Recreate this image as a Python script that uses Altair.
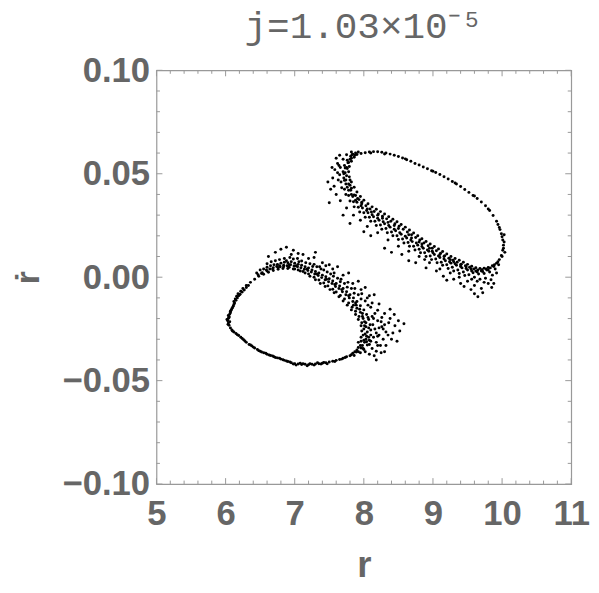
import altair as alt
import pandas as pd

TITLE = "j=1.03×10⁻⁵"
X_TITLE = "r"
Y_TITLE = "ṙ"

x_major = [5, 6, 7, 8, 9, 10, 11]
x_minor = [5.2, 5.4, 5.6, 5.8, 6.2, 6.4, 6.6, 6.8, 7.2, 7.4, 7.6, 7.8,
           8.2, 8.4, 8.6, 8.8, 9.2, 9.4, 9.6, 9.8, 10.2, 10.4, 10.6, 10.8]
y_major = [-0.10, -0.05, 0.00, 0.05, 0.10]
y_minor = [-0.09, -0.08, -0.07, -0.06, -0.04, -0.03, -0.02, -0.01,
           0.01, 0.02, 0.03, 0.04, 0.06, 0.07, 0.08, 0.09]

# ---- left island (r, rdot) ----
left_thin = [
    (6.36, -0.0025), (6.33, -0.0040), (6.30, -0.0050), (6.27, -0.0062), (6.24, -0.0072),
    (6.21, -0.0082), (6.19, -0.0090), (6.17, -0.0100), (6.15, -0.0112), (6.13, -0.0125),
    (6.11, -0.0140), (6.09, -0.0152), (6.07, -0.0165), (6.06, -0.0178), (6.05, -0.0190),
    (6.04, -0.0200), (6.03, -0.0210), (6.04, -0.0222), (6.05, -0.0232), (6.07, -0.0245),
    (6.09, -0.0255), (6.12, -0.0265), (6.15, -0.0272), (6.19, -0.0282), (6.22, -0.0290),
    (6.26, -0.0302), (6.30, -0.0315), (6.34, -0.0325), (6.38, -0.0332), (6.42, -0.0342),
    (6.46, -0.0350), (6.50, -0.0358), (6.55, -0.0365), (6.60, -0.0372), (6.65, -0.0378),
    (6.70, -0.0385), (6.75, -0.0390), (6.80, -0.0396), (6.85, -0.0402), (6.90, -0.0408),
    (6.95, -0.0414), (7.00, -0.0418), (7.05, -0.0420), (7.10, -0.0422), (7.15, -0.0421),
    (7.20, -0.0423), (7.25, -0.0421), (7.30, -0.0420), (7.35, -0.0418), (7.40, -0.0416),
    (7.45, -0.0414), (7.50, -0.0410), (7.55, -0.0406), (7.60, -0.0402), (7.65, -0.0398),
    (7.70, -0.0392), (6.05, -0.0195), (6.06, -0.0215), (6.08, -0.0160), (6.10, -0.0148),
    (6.04, -0.0185), (6.02, -0.0205), (6.58, -0.0368), (6.72, -0.0388), (6.88, -0.0405),
    (7.02, -0.0425), (7.12, -0.0418), (7.18, -0.0428), (7.28, -0.0425), (7.38, -0.0420),
    (7.42, -0.0412), (7.33, -0.0413), (6.93, -0.0410), (7.08, -0.0416), (6.28, -0.0308),
    (6.17, -0.0278), (6.40, -0.0338), (6.52, -0.0362), (6.63, -0.0376), (6.78, -0.0392),
    (6.20, -0.0085), (6.12, -0.0132), (6.07, -0.0172), (6.035, -0.0228), (6.10, -0.0260),
    (6.24, -0.0296), (6.36, -0.0328), (6.48, -0.0355), (6.68, -0.0381), (6.83, -0.0399),
    (6.98, -0.0420), (7.22, -0.0418), (7.47, -0.0418), (7.58, -0.0408), (7.68, -0.0396),
]
left_inner = [
    (7.75, -0.0385), (7.82, -0.0375), (7.87, -0.0360), (7.92, -0.0340), (7.96, -0.0310),
    (7.99, -0.0280), (8.00, -0.0250), (7.97, -0.0220), (7.93, -0.0190), (7.88, -0.0165),
    (7.83, -0.0145), (7.78, -0.0125), (7.72, -0.0105), (7.66, -0.0088), (7.60, -0.0072),
    (7.55, -0.0058), (7.48, -0.0042), (7.42, -0.0028), (7.35, -0.0014), (7.28, 0.0000),
    (7.20, 0.0016), (7.12, 0.0028), (7.05, 0.0035), (6.98, 0.0040), (6.90, 0.0042),
    (6.83, 0.0042), (6.76, 0.0038), (6.69, 0.0032), (6.62, 0.0024), (6.55, 0.0014),
    (6.48, 0.0004), (6.42, -0.0010),
]
left_band = [
    (6.45, 0.0020), (6.50, 0.0035), (6.55, 0.0040), (6.60, 0.0048), (6.65, 0.0055),
    (6.70, 0.0060), (6.75, 0.0062), (6.80, 0.0068), (6.85, 0.0072), (6.90, 0.0070),
    (6.95, 0.0075), (7.00, 0.0068), (7.05, 0.0062), (7.10, 0.0058), (7.15, 0.0050),
    (7.20, 0.0045), (7.25, 0.0035), (7.30, 0.0028), (7.35, 0.0020), (7.40, 0.0010),
    (7.45, 0.0002), (7.50, -0.0008), (7.55, -0.0018), (7.60, -0.0030), (7.65, -0.0042),
    (7.70, -0.0055), (7.75, -0.0070), (7.80, -0.0085), (7.85, -0.0100), (7.90, -0.0118),
    (7.95, -0.0138), (8.00, -0.0158), (8.04, -0.0180), (8.07, -0.0205), (8.09, -0.0230),
    (8.10, -0.0255), (8.10, -0.0280), (8.08, -0.0305), (8.05, -0.0328), (8.00, -0.0350),
    (7.95, -0.0365),
    (6.60, 0.0065), (6.72, 0.0080), (6.85, 0.0090), (6.98, 0.0088), (7.10, 0.0078),
    (7.22, 0.0065), (7.32, 0.0050), (7.42, 0.0035), (7.52, 0.0015), (7.62, -0.0005),
    (7.72, -0.0030), (7.82, -0.0055), (7.92, -0.0085), (8.02, -0.0115), (8.10, -0.0145),
    (8.16, -0.0175), (8.20, -0.0210), (8.22, -0.0245), (8.22, -0.0280), (8.18, -0.0315),
    (8.12, -0.0345),
    (6.78, 0.0055), (6.92, 0.0060), (7.02, 0.0055), (7.18, 0.0040), (7.32, 0.0015),
    (7.46, -0.0010), (7.58, -0.0035), (7.68, -0.0060), (7.78, -0.0090), (7.88, -0.0125),
    (7.98, -0.0175), (8.03, -0.0220), (8.05, -0.0265), (8.03, -0.0300), (7.98, -0.0330),
    (7.90, -0.0352), (7.84, -0.0368), (7.80, -0.0380), (7.73, -0.0388),
    (6.88, 0.0080), (7.06, 0.0075), (7.26, 0.0052), (7.38, 0.0040), (7.56, 0.0005),
    (7.66, -0.0022), (7.76, -0.0048), (7.86, -0.0078), (7.96, -0.0105), (8.06, -0.0135),
    (8.14, -0.0200), (8.16, -0.0250), (8.14, -0.0290), (8.08, -0.0325), (8.02, -0.0360),
]
left_band2 = [
    (6.47, 0.0012), (6.53, 0.0022), (6.59, 0.0035), (6.64, 0.0040), (6.69, 0.0046),
    (6.74, 0.0052), (6.79, 0.0050), (6.84, 0.0058), (6.89, 0.0055), (6.94, 0.0060),
    (6.99, 0.0054), (7.04, 0.0050), (7.09, 0.0046), (7.14, 0.0038), (7.19, 0.0032),
    (7.24, 0.0025), (7.29, 0.0015), (7.34, 0.0008), (7.39, -0.0002), (7.44, -0.0012),
    (7.49, -0.0022), (7.54, -0.0030), (7.59, -0.0045), (7.64, -0.0055), (7.69, -0.0070),
    (7.74, -0.0085), (7.79, -0.0100), (7.84, -0.0118), (7.89, -0.0135), (7.94, -0.0155),
    (7.98, -0.0190), (8.01, -0.0215), (8.03, -0.0240), (8.04, -0.0285), (8.01, -0.0315),
    (7.96, -0.0342), (7.89, -0.0362),
]
left_band3 = [
    (6.66, 0.0075), (6.78, 0.0085), (6.93, 0.0095), (7.04, 0.0090), (7.16, 0.0070),
    (7.28, 0.0062), (7.36, 0.0050), (7.47, 0.0025), (7.57, 0.0020), (7.67, -0.0010),
    (7.77, -0.0025), (7.87, -0.0055), (7.97, -0.0080), (8.05, -0.0100), (8.12, -0.0125),
    (8.20, -0.0160), (8.26, -0.0195), (8.30, -0.0230), (8.32, -0.0265), (8.28, -0.0300),
    (8.24, -0.0330), (8.18, -0.0358), (8.08, -0.0372), (8.13, -0.0230), (8.18, -0.0270),
    (8.12, -0.0190), (8.25, -0.0215), (8.20, -0.0285), (8.10, -0.0310), (8.26, -0.0240),
]
left_dense = [
    (7.85, -0.0135), (7.90, -0.0150), (7.95, -0.0170), (7.99, -0.0200), (8.01, -0.0235),
    (8.02, -0.0275), (8.00, -0.0305), (7.95, -0.0330), (7.92, -0.0315), (7.96, -0.0290),
    (7.97, -0.0260), (7.96, -0.0235), (7.92, -0.0205), (7.88, -0.0180), (7.82, -0.0158),
    (7.76, -0.0135), (7.70, -0.0115), (7.64, -0.0095), (7.57, -0.0075), (7.51, -0.0060),
    (7.44, -0.0045), (7.37, -0.0030), (7.30, -0.0012), (7.22, 0.0005), (7.15, 0.0020),
    (7.08, 0.0030), (7.00, 0.0040), (6.92, 0.0048), (6.84, 0.0050), (6.76, 0.0046),
    (6.68, 0.0040), (6.60, 0.0030), (6.52, 0.0018), (8.06, -0.0195), (8.07, -0.0245),
    (8.07, -0.0290), (8.04, -0.0312), (7.99, -0.0345), (7.92, -0.0360), (7.86, -0.0378),
    (6.30, -0.0040), (6.25, -0.0055), (6.22, -0.0068), (6.18, -0.0080), (6.16, -0.0092),
    (6.14, -0.0105), (6.12, -0.0118),
]
left_outliers = [
    (6.72, 0.0120), (6.88, 0.0145), (6.98, 0.0130), (7.12, 0.0110), (7.28, 0.0095),
    (7.40, 0.0070), (7.55, 0.0040), (7.70, 0.0010), (7.84, -0.0030), (7.96, -0.0060),
    (8.08, -0.0090), (8.22, -0.0130), (8.30, -0.0175), (8.38, -0.0200), (8.45, -0.0235),
    (8.52, -0.0260), (8.40, -0.0300), (8.32, -0.0330), (8.25, -0.0365), (8.15, -0.0380),
    (8.50, -0.0210), (8.28, -0.0250), (6.62, 0.0100), (7.05, 0.0115), (7.50, 0.0060),
    (8.35, -0.0280), (8.20, -0.0330), (8.42, -0.0270), (8.36, -0.0220), (8.44, -0.0180),
    (8.58, -0.0225), (8.48, -0.0310), (8.30, -0.0360), (8.18, -0.0400), (7.62, 0.0050),
    (7.78, 0.0020), (7.30, 0.0120), (6.80, 0.0135), (6.95, 0.0110), (7.20, 0.0090),
    (7.45, 0.0055), (7.92, -0.0020), (8.02, -0.0050), (8.15, -0.0085), (8.38, -0.0155),
]

# ---- right island (r, rdot) ----
right_upper = [
    (7.90, 0.0593), (7.96, 0.0598), (8.02, 0.0602), (8.08, 0.0605), (8.14, 0.0607),
    (8.20, 0.0606), (8.26, 0.0604), (8.32, 0.0600), (8.38, 0.0595), (8.44, 0.0590),
    (8.50, 0.0583), (8.56, 0.0576), (8.62, 0.0568), (8.68, 0.0560), (8.74, 0.0550),
    (8.80, 0.0542), (8.86, 0.0533), (8.92, 0.0524), (8.98, 0.0515), (9.04, 0.0506),
    (9.10, 0.0496), (9.16, 0.0486), (9.22, 0.0475), (9.28, 0.0463), (9.34, 0.0450),
    (9.40, 0.0438), (9.46, 0.0424), (9.52, 0.0410), (9.58, 0.0395), (9.64, 0.0380),
    (9.70, 0.0363), (9.76, 0.0345), (9.82, 0.0322), (9.87, 0.0298), (9.92, 0.0270),
    (9.96, 0.0240), (9.99, 0.0210), (10.01, 0.0180), (10.02, 0.0155), (10.01, 0.0130),
    (9.99, 0.0105), (9.96, 0.0085),
    (8.10, 0.0600), (8.30, 0.0596), (8.60, 0.0572), (9.00, 0.0512), (9.32, 0.0455),
    (9.60, 0.0392), (9.80, 0.0330), (9.94, 0.0255), (10.00, 0.0195), (10.03, 0.0170),
    (10.02, 0.0140), (10.04, 0.0120), (10.00, 0.0100), (9.97, 0.0230), (10.03, 0.0205),
]
right_inner = [
    (9.92, 0.0068), (9.86, 0.0055), (9.80, 0.0047), (9.74, 0.0043), (9.68, 0.0042),
    (9.62, 0.0046), (9.56, 0.0053), (9.50, 0.0062), (9.44, 0.0072), (9.38, 0.0082),
    (9.32, 0.0090), (9.26, 0.0100), (9.20, 0.0112), (9.14, 0.0124), (9.08, 0.0136),
    (9.02, 0.0148), (8.96, 0.0160), (8.90, 0.0173), (8.84, 0.0186), (8.78, 0.0200),
    (8.72, 0.0214), (8.66, 0.0228), (8.60, 0.0242), (8.54, 0.0255), (8.48, 0.0268),
    (8.42, 0.0280), (8.36, 0.0292), (8.30, 0.0305), (8.24, 0.0317), (8.18, 0.0328),
    (8.12, 0.0340), (8.06, 0.0355), (8.00, 0.0372), (7.95, 0.0390), (7.90, 0.0412),
    (7.86, 0.0435), (7.82, 0.0460), (7.79, 0.0485), (7.78, 0.0510), (7.79, 0.0535),
    (7.82, 0.0560), (7.86, 0.0580),
]
right_band = [
    (9.90, 0.0040), (9.82, 0.0025), (9.74, 0.0018), (9.66, 0.0015), (9.58, 0.0022),
    (9.50, 0.0035), (9.42, 0.0045), (9.34, 0.0058), (9.26, 0.0068), (9.18, 0.0080),
    (9.10, 0.0095), (9.02, 0.0110), (8.94, 0.0125), (8.86, 0.0140), (8.78, 0.0155),
    (8.70, 0.0172), (8.62, 0.0190), (8.54, 0.0208), (8.46, 0.0225), (8.38, 0.0242),
    (8.30, 0.0258), (8.22, 0.0275), (8.14, 0.0292), (8.06, 0.0312), (7.98, 0.0335),
    (7.90, 0.0362), (7.84, 0.0390), (7.78, 0.0420), (7.74, 0.0450), (7.71, 0.0480),
    (7.70, 0.0510), (7.72, 0.0540), (7.76, 0.0565), (7.81, 0.0585),
    (9.95, 0.0060), (9.86, 0.0010), (9.76, -0.0005), (9.68, -0.0010), (9.60, 0.0000),
    (9.52, 0.0012), (9.44, 0.0025), (9.36, 0.0035), (9.28, 0.0048), (9.20, 0.0060),
    (9.12, 0.0072), (9.04, 0.0088), (8.96, 0.0102), (8.88, 0.0118), (8.80, 0.0135),
    (8.72, 0.0150), (8.64, 0.0168), (8.56, 0.0185), (8.48, 0.0200), (8.40, 0.0218),
    (8.32, 0.0235), (8.24, 0.0252), (8.16, 0.0270), (8.08, 0.0290), (8.00, 0.0312),
    (7.92, 0.0338), (7.85, 0.0365), (7.78, 0.0395), (7.72, 0.0425), (7.67, 0.0460),
    (7.65, 0.0495), (7.66, 0.0530),
    (9.70, 0.0030), (9.55, 0.0040), (9.40, 0.0060), (9.25, 0.0085), (9.10, 0.0110),
    (8.95, 0.0140), (8.80, 0.0170), (8.65, 0.0205), (8.50, 0.0235), (8.35, 0.0265),
    (8.20, 0.0300), (8.05, 0.0330), (7.93, 0.0375), (7.82, 0.0430), (7.75, 0.0490),
    (7.76, 0.0525), (7.80, 0.0570), (7.84, 0.0595), (7.88, 0.0600), (7.92, 0.0605),
    (9.78, 0.0035), (9.62, 0.0030), (9.48, 0.0050), (9.30, 0.0075), (9.16, 0.0100),
    (8.99, 0.0125), (8.84, 0.0160), (8.69, 0.0190), (8.44, 0.0250), (8.27, 0.0285),
    (8.11, 0.0315), (7.97, 0.0355), (7.88, 0.0395), (7.80, 0.0445), (7.73, 0.0505),
]
right_band2 = [
    (9.88, 0.0052), (9.80, 0.0035), (9.72, 0.0028), (9.64, 0.0025), (9.56, 0.0030),
    (9.48, 0.0042), (9.40, 0.0052), (9.32, 0.0065), (9.24, 0.0075), (9.16, 0.0088),
    (9.08, 0.0102), (9.00, 0.0118), (8.92, 0.0132), (8.84, 0.0148), (8.76, 0.0165),
    (8.68, 0.0180), (8.60, 0.0198), (8.52, 0.0215), (8.44, 0.0232), (8.36, 0.0250),
    (8.28, 0.0268), (8.20, 0.0285), (8.12, 0.0302), (8.04, 0.0322), (7.96, 0.0345),
    (7.88, 0.0372), (7.82, 0.0400), (7.76, 0.0435), (7.72, 0.0468), (7.71, 0.0500),
    (7.73, 0.0528), (7.77, 0.0553), (7.82, 0.0575), (7.87, 0.0590),
]
right_band3 = [
    (9.92, 0.0020), (9.84, -0.0012), (9.74, -0.0025), (9.64, -0.0020), (9.56, -0.0010),
    (9.46, 0.0008), (9.38, 0.0018), (9.30, 0.0030), (9.22, 0.0042), (9.14, 0.0058),
    (9.06, 0.0070), (8.98, 0.0085), (8.90, 0.0100), (8.82, 0.0118), (8.74, 0.0132),
    (8.66, 0.0150), (8.58, 0.0165), (8.50, 0.0182), (8.42, 0.0200), (8.34, 0.0215),
    (8.26, 0.0232), (8.18, 0.0250), (8.10, 0.0270), (8.02, 0.0290), (7.94, 0.0315),
    (7.86, 0.0340), (7.80, 0.0368), (7.74, 0.0400), (7.68, 0.0432), (7.63, 0.0470),
    (7.62, 0.0505), (7.64, 0.0540), (7.70, 0.0570), (7.75, 0.0592), (7.82, 0.0605),
]
right_dense = [
    (7.80, 0.0470), (7.78, 0.0450), (7.81, 0.0420), (7.86, 0.0398), (7.91, 0.0380),
    (7.97, 0.0362), (8.03, 0.0345), (8.09, 0.0330), (8.15, 0.0318), (8.21, 0.0305),
    (8.27, 0.0295), (8.33, 0.0282), (8.39, 0.0270), (8.45, 0.0258), (8.51, 0.0246),
    (8.57, 0.0232), (8.63, 0.0218), (8.69, 0.0205), (8.75, 0.0192), (8.81, 0.0180),
    (8.87, 0.0165), (8.93, 0.0152), (8.99, 0.0140), (9.05, 0.0128), (9.11, 0.0116),
    (9.17, 0.0104), (9.23, 0.0092), (9.29, 0.0082), (9.35, 0.0072), (9.41, 0.0063),
    (9.47, 0.0055), (9.53, 0.0048), (9.59, 0.0040), (9.65, 0.0035), (9.71, 0.0036),
    (9.77, 0.0040), (9.83, 0.0045), (9.89, 0.0060), (9.94, 0.0075), (7.75, 0.0530),
    (7.78, 0.0555), (7.83, 0.0592), (7.74, 0.0470),
]
right_outliers = [
    (9.80, -0.0030), (9.70, -0.0055), (9.60, -0.0040), (9.50, -0.0020), (9.38, 0.0000),
    (9.60, -0.0080), (9.45, -0.0045), (9.85, -0.0050), (9.25, 0.0020), (9.10, 0.0040),
    (8.95, 0.0070), (8.80, 0.0100), (8.65, 0.0125), (8.50, 0.0150), (8.35, 0.0180),
    (8.20, 0.0215), (8.05, 0.0245), (7.95, 0.0275), (7.85, 0.0300), (7.75, 0.0335),
    (7.66, 0.0370), (7.60, 0.0400), (7.57, 0.0440), (7.55, 0.0480), (7.58, 0.0520),
    (7.62, 0.0550), (8.65, 0.0080), (8.90, 0.0045), (9.15, 0.0005), (8.40, 0.0120),
    (8.10, 0.0200), (7.80, 0.0260), (7.52, 0.0425), (7.60, 0.0575), (9.88, -0.0030),
    (9.72, -0.0075), (9.55, -0.0060), (9.40, -0.0030), (9.30, -0.0010), (9.05, 0.0030),
    (8.75, 0.0070), (8.55, 0.0110), (8.30, 0.0140), (8.00, 0.0220), (7.70, 0.0300),
    (7.50, 0.0360), (7.48, 0.0460), (7.54, 0.0530), (7.65, 0.0590), (9.65, -0.0095),
    (8.88, 0.0085), (9.20, -0.0015),
]

groups = [left_thin, left_inner, left_band, left_band2, left_band3, left_dense, left_outliers,
          right_upper, right_inner, right_band, right_band2, right_band3, right_dense,
          right_outliers]
pts = [p for g in groups for p in g]
df = pd.DataFrame({"r": [p[0] for p in pts], "v": [p[1] for p in pts]})

GRAY = "#666666"
FRAME = "#999999"
W, H = 419, 418

xs = alt.Scale(domain=[5, 11], nice=False, zero=False)
ys = alt.Scale(domain=[-0.1, 0.1], nice=False, zero=False)

points = alt.Chart(df).mark_circle(size=9, color="black", opacity=1).encode(
    x=alt.X("r:Q", scale=xs, axis=alt.Axis(
        values=x_major, format="d", ticks=False, tickSize=0, domain=False, grid=False,
        labelFont="Liberation Sans", labelFontWeight="bold", labelFontSize=35,
        labelColor=GRAY, labelPadding=13, labelFlush=False, labelOverlap=False,
        title=X_TITLE, titleFont="Liberation Sans", titleFontWeight="bold",
        titleFontSize=37, titleColor=GRAY, titlePadding=16)),
    y=alt.Y("v:Q", scale=ys, axis=alt.Axis(
        values=y_major, format=".2f", ticks=False, tickSize=0, domain=False, grid=False,
        labelFont="Liberation Sans", labelFontWeight="bold", labelFontSize=35,
        labelColor=GRAY, labelPadding=7, labelFlush=False, labelOverlap=False,
        title=Y_TITLE, titleFont="Liberation Sans", titleFontWeight="bold",
        titleFontSize=34, titleColor=GRAY, titlePadding=17)),
)

xmaj = pd.DataFrame({"t": x_major})
xmin = pd.DataFrame({"t": x_minor})
ymaj = pd.DataFrame({"t": y_major})
ymin = pd.DataFrame({"t": y_minor})

def xticks(d, L):
    b = alt.Chart(d).mark_rule(color=FRAME, strokeWidth=1)
    return (b.encode(x=alt.X("t:Q", scale=xs), y=alt.value(H), y2=alt.value(H - L))
            + b.encode(x=alt.X("t:Q", scale=xs), y=alt.value(0), y2=alt.value(L)))

def yticks(d, L):
    b = alt.Chart(d).mark_rule(color=FRAME, strokeWidth=1)
    return (b.encode(y=alt.Y("t:Q", scale=ys), x=alt.value(0), x2=alt.value(L))
            + b.encode(y=alt.Y("t:Q", scale=ys), x=alt.value(W), x2=alt.value(W - L)))

chart = alt.layer(
    xticks(xmaj, 6), xticks(xmin, 3.5), yticks(ymaj, 6), yticks(ymin, 3.5), points
).properties(
    width=W, height=H,
    title=alt.TitleParams(TITLE, font="Liberation Mono", fontSize=38, fontWeight="normal",
                          color=GRAY, anchor="middle", frame="group", offset=8),
    autosize=alt.AutoSizeParams(type="none"),
    padding={"left": 150, "top": 60, "right": 20, "bottom": 99},
).configure_view(stroke=FRAME, strokeWidth=1.2)

chart.save("out.html", embed_options={"renderer": "svg", "actions": False})
